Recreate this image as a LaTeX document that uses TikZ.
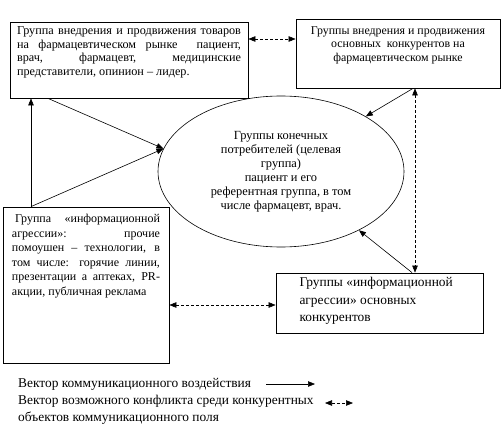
\documentclass[tikz,border=0pt]{standalone}
\usepackage{fontspec}
\setmainfont{Liberation Serif}
\usetikzlibrary{arrows.meta,positioning,shapes.geometric}

\begin{document}
\begin{tikzpicture}[
    x=1pt, y=-1pt,
    grp/.style={draw, line width=0.8pt, inner sep=0pt,
                font=\fontsize{12.2}{13.5}\selectfont},
    cloud/.style={draw, ellipse, line width=0.6pt, inner sep=0pt,
                  minimum width=246pt, minimum height=151pt,
                  align=center, font=\fontsize{12.4}{14}\selectfont},
    arr/.style={-{Triangle[length=7pt,width=5.5pt]}, line width=0.6pt},
    conf/.style={{Triangle[length=7pt,width=5.5pt]}-{Triangle[length=7pt,width=5.5pt]},
                 line width=0.6pt, dash pattern=on 3pt off 2pt},
    legend/.style={anchor=base west, inner sep=0pt,
                   font=\fontsize{13.4}{14}\selectfont}
  ]
  \useasboundingbox (0,0) rectangle (503,425);

  \node[grp, minimum width=238pt, minimum height=76pt] (prom) at (129,60)
    {\parbox[t][66pt][t]{224pt}{Группа внедрения и продвижения товаров\linebreak
     на фармацевтическом рынке \ пациент,\linebreak
     врач, фармацевт, медицинские\linebreak
     представители, опинион – лидер.}};
  \node[grp, minimum width=204pt, minimum height=69pt] (comp) at (398,53.5)
    {\parbox[t][54pt][t]{194pt}{\centering\fontsize{11.9}{13.5}\selectfont
     Группы внедрения и продвижения\\
     основных \ конкурентов на\\ фармацевтическом рынке}};
  \node[cloud] (cons) at (281,171.5)
    {Группы конечных\\ потребителей (целевая\\ группа)\\ пациент и его\\
     референтная группа, в том\\ числе фармацевт, врач.};
  \node[grp, minimum width=166pt, minimum height=156pt] (aggr) at (86,285)
    {\parbox[t][141pt][t]{148pt}{\fontsize{12}{14.5}\selectfont
     \hspace*{3pt}Группа «информационной\linebreak
     агрессии»: прочие\linebreak
     помоушен – технологии, в\linebreak
     том числе: горячие линии,\linebreak
     презентации а аптеках, PR-\linebreak
     акции, публичная реклама}};
  \node[grp, minimum width=207pt, minimum height=60pt] (caggr) at (379.5,303)
    {\parbox[t][51pt][t]{160pt}{\raggedright\fontsize{13.4}{17.5}\selectfont
     Группы «информационной\\ агрессии» основных\\ конкурентов}};

  % Conflicts between competing groups
  \coordinate (pc) at ([yshift=21pt]prom.east);
  \draw[conf] (pc) -- (pc -| comp.west);
  \coordinate (cd) at ([xshift=17pt]comp.south);
  \draw[conf] (cd) -- (cd |- caggr.north);
  \coordinate (ac) at ([yshift=-20pt]aggr.east);
  \draw[conf] (ac) -- (ac -| caggr.west);

  % Communication vectors
  \coordinate (au) at ([xshift=-55pt]aggr.north);
  \draw[arr] (au) -- (au |- prom.south);
  \draw[arr] (au) -- (cons.169);
  \draw[arr] ([xshift=-81pt]prom.south) -- (cons.169);
  \draw[arr] ([xshift=15pt]comp.south) -- (cons.33);
  \draw[arr] ([xshift=32.5pt]caggr.north) -- (cons.323);

  % Legend
  \node[legend] (lg1) at (18,387) {Вектор коммуникационного воздействия};
  \node[legend] (lg2) at (18,404.5) {Вектор возможного конфликта среди конкурентных};
  \node[legend] (lg3) at (18,421.5) {объектов коммуникационного поля};
  \coordinate (v1) at (266,384);
  \coordinate (v2) at (315,384);
  \draw[arr] (v1) -- (v2);
  \coordinate (k1) at (325,403);
  \coordinate (k2) at (353,403);
  \draw[conf] (k1) -- (k2);
\end{tikzpicture}
\end{document}
